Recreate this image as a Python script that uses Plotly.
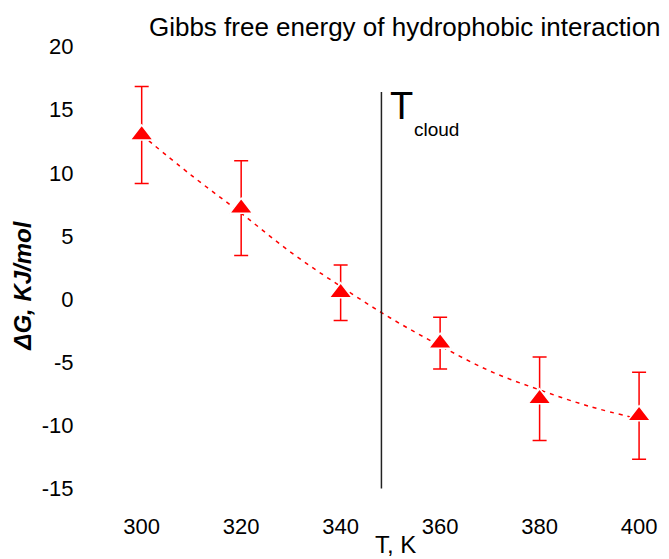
import plotly.graph_objects as go

# measured points
temperature = [300, 320, 340, 360, 380, 400]
delta_g = [13.0, 7.2, 0.5, -3.5, -7.9, -9.25]
delta_g_err = [3.85, 3.75, 2.2, 2.05, 3.3, 3.45]

# dashed trend curve
trend_t = [300, 310, 320, 330, 340, 350, 360, 370, 380, 390, 400]
trend_g = [13.0, 9.8, 6.8, 3.7, 1.0, -1.5, -3.7, -5.7, -7.2, -8.5, -9.5]

# cloud point marker line
t_cloud = [348.2, 348.2]
t_cloud_g = [-15, 16.4]

x_ticks = [300, 320, 340, 360, 380, 400]
y_ticks = [-15, -10, -5, 0, 5, 10, 15, 20]
y_tick_text = ["-15", "-10", "-5", "0", "5", "10", "15", "20"]

font_name = "Liberation Sans, Arial, sans-serif"

fig = go.Figure()

fig.add_trace(go.Scatter(
    x=trend_t, y=trend_g, mode="lines",
    line=dict(color="#FF0000", width=1.5, dash="4px,5px", shape="spline"),
    hoverinfo="skip",
))

fig.add_trace(go.Scatter(
    x=t_cloud, y=t_cloud_g, mode="lines",
    line=dict(color="#222222", width=1.5),
    hoverinfo="skip",
))

fig.add_trace(go.Scatter(
    x=temperature, y=delta_g, mode="markers",
    marker=dict(symbol="triangle-up", size=20, color="#FF0000",
                line=dict(color="white", width=1.5)),
    error_y=dict(type="data", array=delta_g_err, visible=True,
                 color="#FF0000", thickness=1.5, width=7),
))

fig.add_annotation(x=349.6, y=15.3, xref="x", yref="y", text="T",
                   showarrow=False, xanchor="left", yanchor="middle",
                   font=dict(family=font_name, size=38, color="black"))
fig.add_annotation(x=354.4, y=13.4, xref="x", yref="y", text="cloud",
                   showarrow=False, xanchor="left", yanchor="middle",
                   font=dict(family=font_name, size=19, color="black"))

fig.add_annotation(x=351, y=-0.094, xref="x", yref="paper", text="T, K",
                   showarrow=False, xanchor="center", yanchor="middle",
                   font=dict(family=font_name, size=24, color="black"))
fig.add_annotation(x=-0.104, y=0.46, xref="paper", yref="paper",
                   text="<b><i>\u0394G, KJ/mol</i></b>", textangle=-90,
                   showarrow=False, xanchor="center", yanchor="middle",
                   font=dict(family=font_name, size=24, color="black"))

fig.update_layout(
    width=669, height=559,
    margin=dict(l=82, r=12, t=34, b=58),
    paper_bgcolor="white", plot_bgcolor="white",
    showlegend=False,
    title=dict(text="Gibbs free energy of hydrophobic interaction",
               x=0.605, xanchor="center", y=0.952, yanchor="middle",
               font=dict(family=font_name, size=26, color="black")),
    font=dict(family=font_name, size=22, color="black"),
)

fig.update_xaxes(range=[288, 403], tickvals=x_ticks, showgrid=False,
                 zeroline=False, showline=False, ticks="outside",
                 ticklen=6, tickcolor="rgba(0,0,0,0)")
fig.update_yaxes(range=[-16, 21], tickvals=y_ticks, ticktext=y_tick_text,
                 showgrid=False, zeroline=False, showline=False,
                 ticks="outside", ticklen=3, tickcolor="rgba(0,0,0,0)")

# drop the page's default body margin so the figure fills the window
fig.write_html("out.html", config={"displayModeBar": False},
               post_script="document.body.style.margin = '0px';")
